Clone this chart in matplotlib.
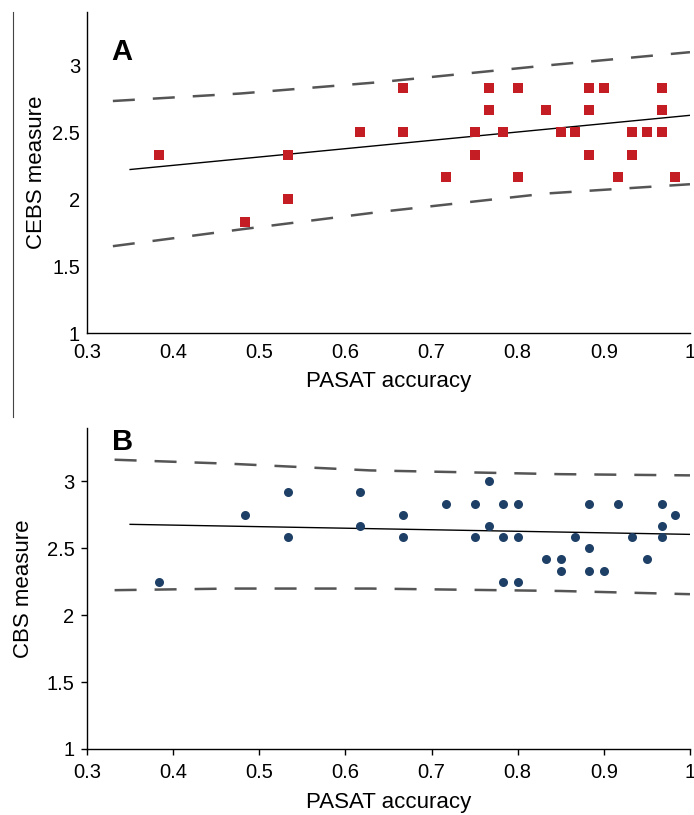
import numpy as np
import matplotlib
matplotlib.use('Agg')
from matplotlib import pyplot as plt
from matplotlib.lines import Line2D

plt.rcParams['font.family'] = ['Liberation Sans', 'DejaVu Sans']

# Panel A: CEBS measure vs PASAT accuracy
cebs_x = [0.383, 0.483, 0.533, 0.533, 0.617, 0.667, 0.667, 0.717, 0.750, 0.750,
          0.767, 0.767, 0.783, 0.800, 0.800, 0.833, 0.850, 0.867, 0.883, 0.883,
          0.883, 0.900, 0.917, 0.933, 0.933, 0.950, 0.967, 0.967, 0.967, 0.983]
cebs_y = [2.333, 1.833, 2.333, 2.000, 2.500, 2.833, 2.500, 2.167, 2.500, 2.333,
          2.833, 2.667, 2.500, 2.833, 2.167, 2.667, 2.500, 2.500, 2.833, 2.667,
          2.333, 2.833, 2.167, 2.500, 2.333, 2.500, 2.833, 2.667, 2.500, 2.167]
cebs_fit_x = [0.35, 1.0]
cebs_fit_y = [2.222, 2.627]
cebs_band_x = [0.33, 0.478, 0.64, 0.834, 1.0]
cebs_band_hi = [2.734, 2.79, 2.875, 3.0, 3.099]
cebs_band_lo = [1.649, 1.774, 1.905, 2.043, 2.112]

# Panel B: CBS measure vs PASAT accuracy
cbs_x = [0.383, 0.483, 0.533, 0.533, 0.617, 0.617, 0.667, 0.667, 0.717, 0.750,
         0.750, 0.767, 0.767, 0.783, 0.783, 0.783, 0.800, 0.800, 0.800, 0.833,
         0.850, 0.850, 0.867, 0.883, 0.883, 0.883, 0.900, 0.917, 0.933, 0.950,
         0.967, 0.967, 0.967, 0.983]
cbs_y = [2.250, 2.750, 2.917, 2.583, 2.917, 2.667, 2.750, 2.583, 2.833, 2.833,
         2.583, 3.000, 2.667, 2.833, 2.583, 2.250, 2.833, 2.583, 2.250, 2.417,
         2.417, 2.333, 2.583, 2.833, 2.500, 2.333, 2.333, 2.833, 2.583, 2.417,
         2.833, 2.667, 2.583, 2.750]
cbs_fit_x = [0.35, 1.0]
cbs_fit_y = [2.679, 2.604]
cbs_band_x = [0.332, 0.466, 0.629, 0.849, 1.0]
cbs_band_hi = [3.162, 3.132, 3.082, 3.054, 3.045]
cbs_band_lo = [2.187, 2.199, 2.199, 2.181, 2.157]

xticks = [0.3, 0.4, 0.5, 0.6, 0.7, 0.8, 0.9, 1.0]
xticklabels = ['0.3', '0.4', '0.5', '0.6', '0.7', '0.8', '0.9', '1']
yticks = [1, 1.5, 2, 2.5, 3]
yticklabels = ['1', '1.5', '2', '2.5', '3']

fig = plt.figure(figsize=(6.94, 8.15), dpi=100)
ax_a = fig.add_axes([0.1254, 0.5914, 0.8688, 0.394])
ax_b = fig.add_axes([0.1254, 0.081, 0.8688, 0.394])

band_style = dict(color='#555555', linewidth=1.8, dashes=(8.8, 7.2))


def style_axes(ax, ylabel, ticklen, xpad, ypad, ylabelpad):
    ax.set_xlim(0.3, 1.0)
    ax.set_ylim(1, 3.4)
    ax.set_xticks(xticks)
    ax.set_xticklabels(xticklabels)
    ax.set_yticks(yticks)
    ax.set_yticklabels(yticklabels)
    for side in ('top', 'right'):
        ax.spines[side].set_visible(False)
    for side in ('left', 'bottom'):
        ax.spines[side].set_linewidth(1.0)
    ax.tick_params(labelsize=14.5, length=ticklen, width=1.0)
    ax.tick_params(axis='x', pad=xpad)
    ax.tick_params(axis='y', pad=ypad)
    ax.set_xlabel('PASAT accuracy', fontsize=16, labelpad=7)
    ax.set_ylabel(ylabel, fontsize=16, labelpad=ylabelpad)


# Panel A
ax_a.plot(cebs_band_x, cebs_band_hi, **band_style)
ax_a.plot(cebs_band_x, cebs_band_lo, **band_style)
ax_a.plot(cebs_fit_x, cebs_fit_y, color='black', linewidth=1.0)
ax_a.plot(cebs_x, cebs_y, 's', color='#c41e24', markersize=7, markeredgewidth=0)
style_axes(ax_a, 'CEBS measure', 0, 7, 5, 3.5)
ax_a.text(0.041, 0.85, 'A', transform=ax_a.transAxes, fontsize=21,
          fontweight='bold', ha='left', va='baseline')

# Panel B
ax_b.plot(cbs_band_x, cbs_band_hi, **band_style)
ax_b.plot(cbs_band_x, cbs_band_lo, **band_style)
ax_b.plot(cbs_fit_x, cbs_fit_y, color='black', linewidth=1.0)
ax_b.plot(cbs_x, cbs_y, 'o', color='#1e3f66', markersize=6.5, markeredgewidth=0)
style_axes(ax_b, 'CBS measure', 4, 6, 5, 9)
ax_b.text(0.041, 0.931, 'B', transform=ax_b.transAxes, fontsize=21,
          fontweight='bold', ha='left', va='baseline')

# thin border line on the left of panel A
fig.add_artist(Line2D([13 / 694, 13 / 694], [1 - 12 / 815, 1 - 417 / 815],
                      transform=fig.transFigure, color='#444444', linewidth=0.8))

plt.savefig('out.png', dpi=100)
